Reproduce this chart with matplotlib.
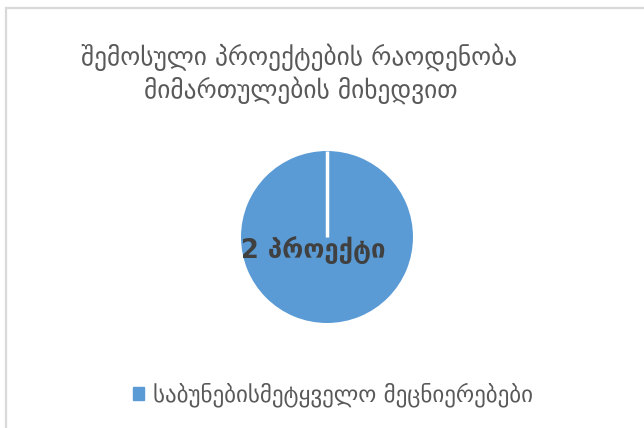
import numpy as np
import matplotlib
matplotlib.use("Agg")
import matplotlib.pyplot as plt
from matplotlib.patches import Rectangle

# data
categories = ["საბუნებისმეტყველო მეცნიერებები"]
values = [2]
unit_label = "პროექტი"
title_lines = ["შემოსული პროექტების რაოდენობა", "მიმართულების მიხედვით"]

pie_color = "#5B9BD5"
text_color = "#595959"

plt.rcParams['font.family'] = ['DejaVu Sans']

W, H = 644, 428
fig = plt.figure(figsize=(W / 100, H / 100), dpi=100)

# chart frame (light grey border, cut off at right/bottom)
fig.patches.append(Rectangle((5.5 / W, -0.1), 2.0, 1.1 - 7.5 / H, transform=fig.transFigure,
                             fill=False, edgecolor="#d9d9d9", linewidth=1.6))

# pie axes
cx, cy, r = 327, 237, 86
ax = fig.add_axes([(cx - r) / W, (H - cy - r) / H, 2 * r / W, 2 * r / H])

start = 90
wedges, _ = ax.pie(values, colors=[pie_color], startangle=start, counterclock=False,
                   radius=1, wedgeprops=dict(edgecolor="white", linewidth=0))
ax.set_xlim(-1, 1)
ax.set_ylim(-1, 1)
ax.axis("off")
# white separator where the slice starts/ends
ang = np.deg2rad(start)
ax.plot([0, np.cos(ang)], [0, np.sin(ang)], color="white", lw=2.5, solid_capstyle="butt")

ax.text(-0.16, -0.15, f"{values[0]} {unit_label}", ha="center", va="center",
        fontsize=18.5, fontweight="bold", color="#404040")

fig.text(299 / W, 1 - 57 / H, title_lines[0], ha="center", va="center",
         fontsize=18.3, color=text_color)
fig.text(301 / W, 1 - 90 / H, title_lines[1], ha="center", va="center",
         fontsize=18.3, color=text_color)

# legend
fig.legend(handles=[Rectangle((0, 0), 1, 1, color=pie_color)], labels=categories,
           loc="center", bbox_to_anchor=(333 / W, 1 - 395 / H), frameon=False,
           fontsize=16.6, handlelength=0.45, handleheight=0.45, handletextpad=0.4,
           labelcolor=text_color)

fig.savefig("out.png", dpi=100)
